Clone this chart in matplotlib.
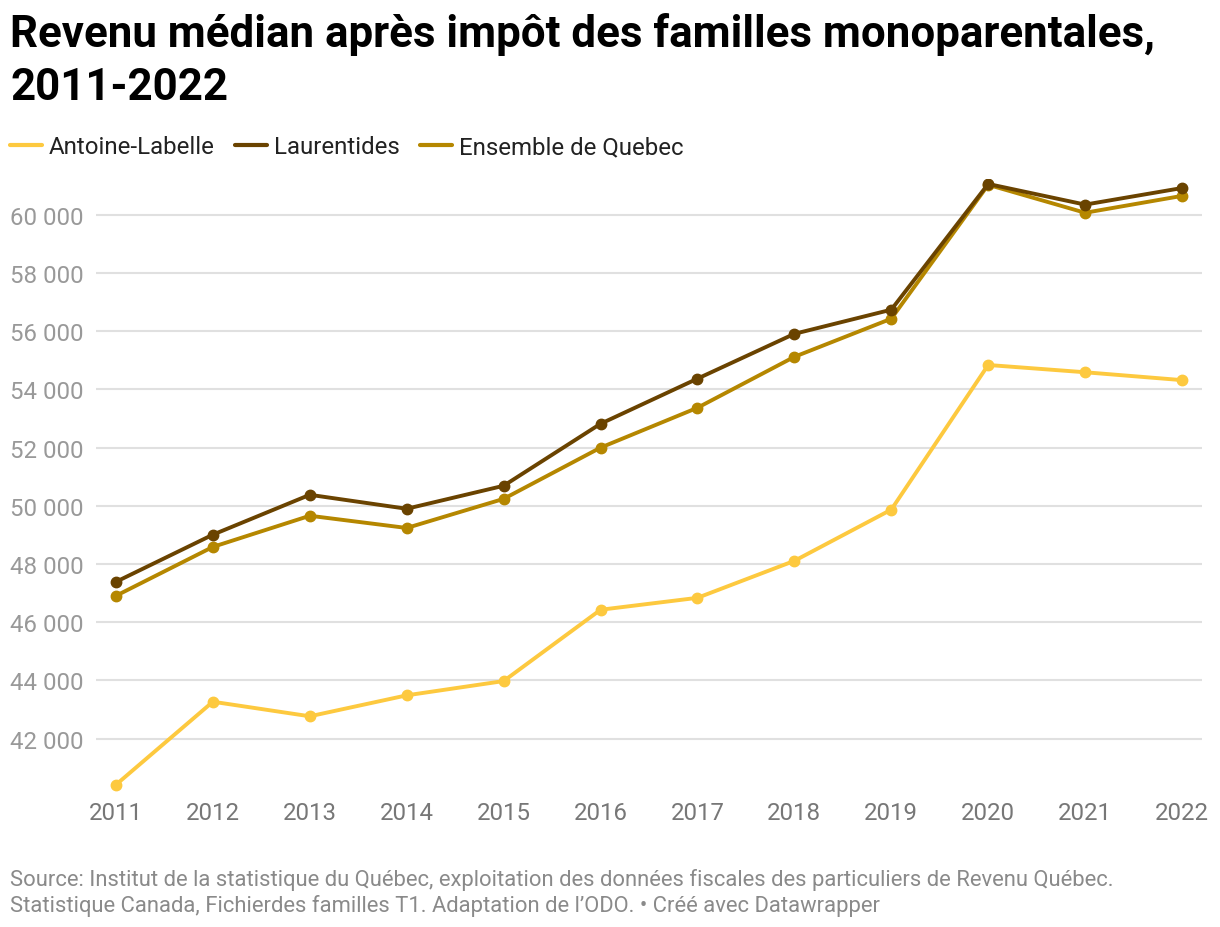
import matplotlib
matplotlib.use('Agg')
import matplotlib.pyplot as plt
from matplotlib.ticker import FuncFormatter

plt.rcParams['font.family'] = ['Roboto', 'DejaVu Sans']

years = [2011, 2012, 2013, 2014, 2015, 2016, 2017, 2018, 2019, 2020, 2021, 2022]
antoine = [40420, 43270, 42770, 43490, 43980, 46430, 46840, 48110, 49870, 54840, 54590, 54320]
laurentides = [47390, 49010, 50380, 49900, 50690, 52820, 54370, 55910, 56740, 61060, 60350, 60920]
quebec = [46910, 48590, 49660, 49240, 50240, 52000, 53370, 55120, 56430, 61030, 60070, 60650]
yticks = [42000, 44000, 46000, 48000, 50000, 52000, 54000, 56000, 58000, 60000]

c_ant = '#fdc93f'
c_lau = '#6a4300'
c_que = '#b58700'

W, H = 1220, 928
fig = plt.figure(figsize=(W / 100, H / 100), dpi=100)
# axes placed in pixels: left 96, right 1202, top 180, bottom 795
ax = fig.add_axes([96 / W, (H - 795) / H, (1202 - 96) / W, (795 - 180) / H])

ax.plot(years, antoine, color=c_ant, lw=2.8, marker='o', ms=7.5, label='Antoine-Labelle', zorder=3)
ax.plot(years, quebec, color=c_que, lw=2.8, marker='o', ms=7.5, label='Ensemble de Quebec', zorder=4)
ax.plot(years, laurentides, color=c_lau, lw=2.8, marker='o', ms=7.5, label='Laurentides', zorder=5)

ax.set_xlim(2011 - 20 / 97, 2022 + 20 / 97)
ax.set_ylim(40100, 61230)
ax.set_xticks(years)
ax.set_yticks(yticks)
ax.yaxis.set_major_formatter(FuncFormatter(lambda v, p: f'{int(v):,}'.replace(',', ' ')))
ax.grid(axis='y', color='#e0e0e0', lw=1.5)
ax.set_axisbelow(True)
for s in ax.spines.values():
    s.set_visible(False)
ax.tick_params(axis='both', length=0)
ax.tick_params(axis='y', labelsize=17.3, labelcolor='#999999', pad=62)
ax.tick_params(axis='x', labelsize=17.3, labelcolor='#777777', pad=5)
for t in ax.get_yticklabels():
    t.set_horizontalalignment('left')

fig.text(10 / W, 1 - 47 / H, 'Revenu médian après impôt des familles monoparentales,',
         fontsize=31.6, fontweight='bold', color='#000000', va='baseline')
fig.text(10 / W, 1 - 100 / H, '2011-2022',
         fontsize=31.6, fontweight='bold', color='#000000', va='baseline')

h, l = ax.get_legend_handles_labels()
order = [0, 2, 1]
leg = fig.legend([h[i] for i in order], [l[i] for i in order], ncol=3, frameon=False,
                 loc='center left', bbox_to_anchor=(10 / W, 1 - 148 / H), fontsize=17.3,
                 handlelength=1.33, handletextpad=0.28, columnspacing=0.85,
                 borderaxespad=0, borderpad=0, labelcolor='#222222')
for ln in leg.get_lines():
    ln.set_marker('')
    ln.set_linewidth(3)
    ln.set_solid_capstyle('round')

fig.text(10 / W, 1 - 886 / H,
         'Source: Institut de la statistique du Québec, exploitation des données fiscales des particuliers de Revenu Québec.',
         fontsize=15.8, color='#8a8a8a', va='baseline')
fig.text(10 / W, 1 - 912 / H,
         'Statistique Canada, Fichierdes familles T1. Adaptation de l\u2019ODO. \u2022 Créé avec Datawrapper',
         fontsize=15.8, color='#8a8a8a', va='baseline')

fig.savefig('out.png', dpi=100)
